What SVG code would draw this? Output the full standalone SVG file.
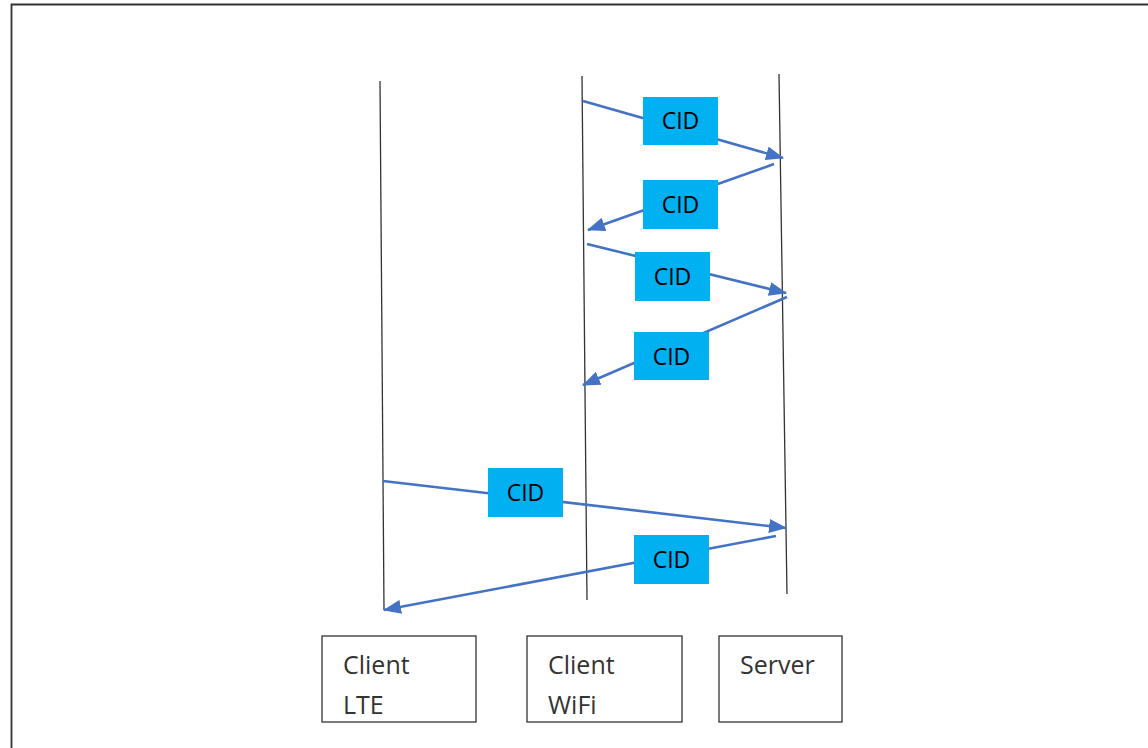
<svg xmlns="http://www.w3.org/2000/svg" width="1148" height="748" viewBox="0 0 1148 748">
<defs>
<marker id="ah" viewBox="0 0 18 14" refX="17" refY="7" markerWidth="18" markerHeight="14" markerUnits="userSpaceOnUse" orient="auto">
<path d="M0,0 L18,7 L0,14 z" fill="#4472C4"/>
</marker>
<style>
.life{stroke:#333;stroke-width:1.3;fill:none}
.msg{stroke:#4472C4;stroke-width:2.6;fill:none;marker-end:url(#ah)}
.tag{fill:#00B0F0}
.tagt{font-family:"Open Sans",sans-serif;font-size:23px;fill:#000;text-anchor:middle}
.box{fill:#fff;stroke:#333;stroke-width:1.3}
.boxt{font-family:"Open Sans",sans-serif;font-size:25px;fill:#333}
</style>
</defs>
<rect width="1148" height="748" fill="#fff"/>
<path d="M11.5,748 V4.5 H1148" stroke="#333" stroke-width="1.8" fill="none"/>
<g id="lifelines">
<line class="life" x1="380" y1="81" x2="384" y2="610"/>
<line class="life" x1="582" y1="76" x2="587" y2="600"/>
<line class="life" x1="779" y1="74" x2="787" y2="594"/>
</g>
<g id="connectors">
<line class="msg" x1="583" y1="101" x2="783" y2="158"/>
<line class="msg" x1="774" y1="164" x2="588" y2="230"/>
<line class="msg" x1="587" y1="244" x2="786" y2="293"/>
<line class="msg" x1="787" y1="297" x2="583" y2="385"/>
<line class="msg" x1="383" y1="481" x2="786" y2="528"/>
<line class="msg" x1="776" y1="536" x2="384" y2="610"/>
</g>
<g id="cid1"><rect class="tag" x="643" y="97" width="75" height="48"/><text class="tagt" x="680.5" y="129">CID</text></g>
<g id="cid2"><rect class="tag" x="643" y="180" width="75" height="49"/><text class="tagt" x="680.5" y="213">CID</text></g>
<g id="cid3"><rect class="tag" x="635" y="252" width="75" height="49"/><text class="tagt" x="672.5" y="285">CID</text></g>
<g id="cid4"><rect class="tag" x="634" y="332" width="75" height="48"/><text class="tagt" x="671.5" y="365">CID</text></g>
<g id="cid5"><rect class="tag" x="488" y="468" width="75" height="49"/><text class="tagt" x="525.5" y="501">CID</text></g>
<g id="cid6"><rect class="tag" x="634" y="535" width="75" height="49"/><text class="tagt" x="671.5" y="568">CID</text></g>
<g id="client-lte"><rect class="box" x="322" y="636" width="154" height="86"/><text class="boxt" x="343" y="674">Client</text><text class="boxt" x="343" y="714">LTE</text></g>
<g id="client-wifi"><rect class="box" x="527" y="636" width="155" height="86"/><text class="boxt" x="548" y="674">Client</text><text class="boxt" x="548" y="714">WiFi</text></g>
<g id="server"><rect class="box" x="719" y="636" width="123" height="86"/><text class="boxt" x="740" y="674">Server</text></g>
</svg>
